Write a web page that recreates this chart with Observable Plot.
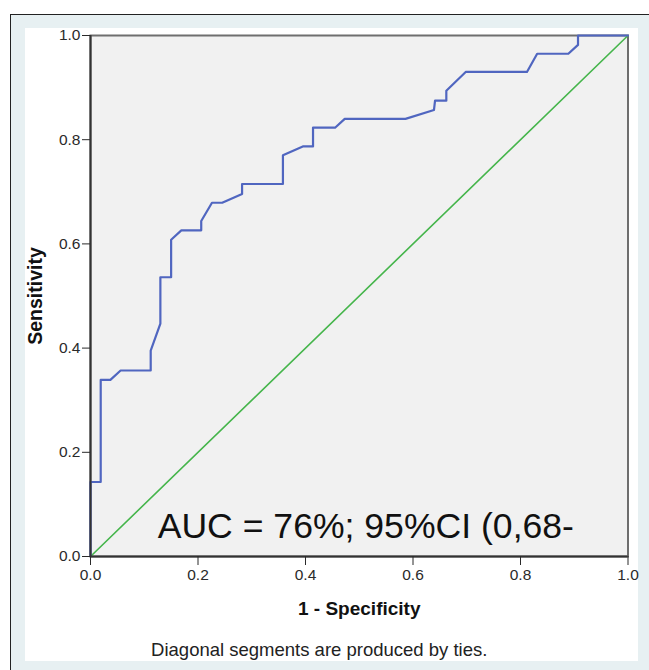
<!DOCTYPE html>
<html>
<head>
<meta charset="utf-8">
<script src="https://cdn.jsdelivr.net/npm/d3@7"></script>
<script src="https://cdn.jsdelivr.net/npm/@observablehq/plot@0.6"></script>
<style>
  body { margin: 0; background: #fff; }
  #wrap { position: relative; width: 649px; height: 670px; overflow: hidden; }
  #outer { position: absolute; left: 10px; top: 14px; width: 660px; height: 670px; background: #e7f0f2; border-left: 1.5px solid #222; border-top: 1.5px solid #222; }
  #panel { position: absolute; left: 25px; top: 28px; width: 613px; height: 633px; background: #fff; }
  #chart { position: absolute; left: 0; top: 0; }
</style>
</head>
<body>
<div id="wrap">
  <div id="outer"></div>
  <div id="panel"></div>
  <div id="chart"></div>
</div>
<script>
// ROC curve: 1 - specificity (x) and sensitivity (y)
const fpr = [0, 0, 0.019, 0.019, 0.037, 0.056, 0.112, 0.112, 0.130, 0.130, 0.150, 0.150, 0.169, 0.206, 0.206, 0.226, 0.245, 0.282, 0.282, 0.358, 0.358, 0.395, 0.414, 0.414, 0.455, 0.473, 0.586, 0.639, 0.641, 0.662, 0.662, 0.698, 0.812, 0.831, 0.889, 0.907, 0.907, 1.0];
const tpr = [0, 0.143, 0.143, 0.339, 0.339, 0.357, 0.357, 0.395, 0.447, 0.536, 0.536, 0.608, 0.626, 0.626, 0.644, 0.679, 0.679, 0.696, 0.715, 0.715, 0.770, 0.787, 0.787, 0.823, 0.823, 0.840, 0.840, 0.857, 0.875, 0.875, 0.894, 0.930, 0.930, 0.965, 0.965, 0.982, 1.0, 1.0];
// reference diagonal
const diagX = [0, 1];
const diagY = [0, 1];
const xTicks = [0, 0.2, 0.4, 0.6, 0.8, 1.0];
const yTicks = [0, 0.2, 0.4, 0.6, 0.8, 1.0];
const annotation = ["AUC = 76%; 95%CI (0,68-"];
const xLabel = ["1 - Specificity"];
const yLabel = ["Sensitivity"];
const caption = ["Diagonal segments are produced by ties."];

const fmt = d3.format(".1f");
const chart = Plot.plot({
  width: 649,
  height: 670,
  marginTop: 35,
  marginBottom: 114,
  marginLeft: 90,
  marginRight: 21.5,
  x: {domain: [0, 1]},
  y: {domain: [0, 1]},
  style: {background: "transparent", fontFamily: "'Liberation Sans', Arial, sans-serif", fontSize: "15px", color: "#2a2a2a"},
  marks: [
    Plot.frame({fill: "#f1f1f1", stroke: "#6e6e6e", strokeWidth: 2}),
    Plot.line(diagX, {x: d => d, y: (d, i) => diagY[i], stroke: "#45b54b", strokeWidth: 1.6}),
    Plot.line(fpr, {x: d => d, y: (d, i) => tpr[i], stroke: "#5066c0", strokeWidth: 2.2}),
    Plot.ruleX([0], {stroke: "#333", strokeWidth: 2}),
    Plot.ruleY([0], {stroke: "#333", strokeWidth: 2}),
    Plot.axisX({ticks: xTicks, tickFormat: fmt, tickSize: 9, tickPadding: 3, label: null, fontSize: 15.5}),
    Plot.axisY({ticks: yTicks, tickFormat: fmt, tickSize: 8, tickPadding: 2, label: null, fontSize: 15.5}),
    Plot.text(annotation, {x: 0.125, y: 0.036, text: d => d, textAnchor: "start", lineAnchor: "bottom", fontSize: 35.6, fill: "#111"}),
    Plot.text(xLabel, {frameAnchor: "bottom", dy: 52, text: d => d, textAnchor: "middle", lineAnchor: "middle", fontSize: 19, fontWeight: "bold", fill: "#111"}),
    Plot.text(yLabel, {frameAnchor: "left", dx: -55, rotate: -90, text: d => d, textAnchor: "middle", lineAnchor: "middle", fontSize: 19.5, fontWeight: "bold", fill: "#111"}),
    Plot.text(caption, {frameAnchor: "bottom", dx: -40, dy: 94, text: d => d, textAnchor: "middle", lineAnchor: "middle", fontSize: 18.5, fill: "#222"})
  ]
});
document.getElementById("chart").appendChild(chart);
</script>
</body>
</html>
